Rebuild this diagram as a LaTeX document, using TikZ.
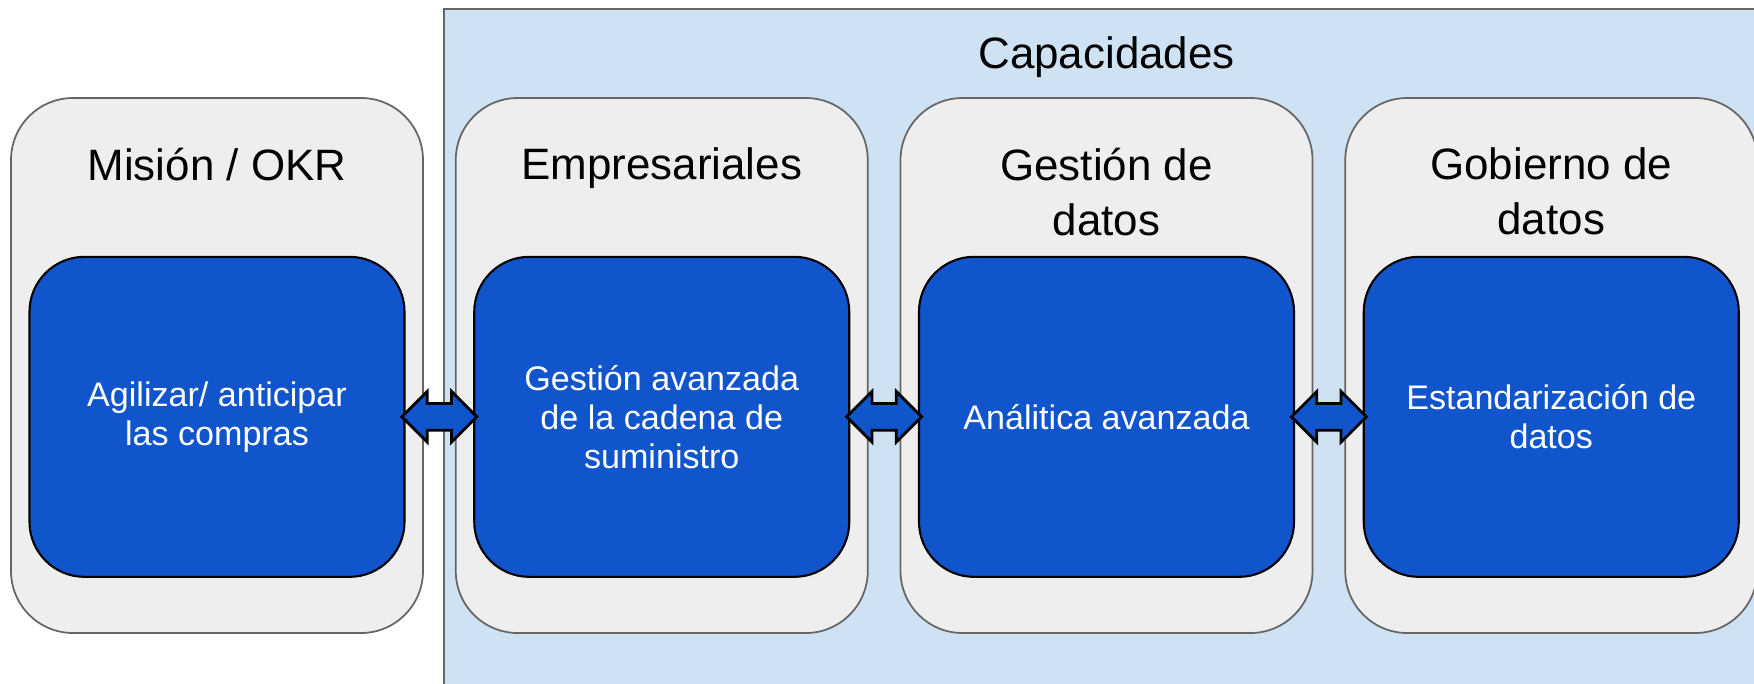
\documentclass[tikz,border=0pt]{standalone}
\usepackage{fontspec}
\setmainfont{Liberation Sans}
\usetikzlibrary{positioning, calc, shapes.arrows}
\definecolor{panelgray}{HTML}{EEEEEE}
\definecolor{edgegray}{HTML}{666666}
\definecolor{capblue}{HTML}{CFE2F3}
\definecolor{goalblue}{HTML}{1155CC}
\tikzset{
capzone/.style={draw=edgegray, fill=capblue, line width=0.5pt}, % the Capacidades area
lane/.style={draw=edgegray, fill=panelgray, line width=0.5pt, rounded corners=6.2mm, minimum width=41.2mm, minimum height=53.5mm}, % grey columns
lanetitle/.style={inner sep=0pt, align=center, font=\fontsize{12.5}{15.6}\selectfont},
goalbox/.style={draw=black, fill=goalblue, text=white, line width=0.6pt, rounded corners=5.5mm, minimum width=37.5mm, minimum height=32mm, align=center, font=\fontsize{9.7}{11.1}\selectfont}, % blue boxes
twoway/.style={double arrow, draw=black, fill=goalblue, line width=0.8pt, minimum height=7.5mm, inner xsep=0pt, inner ysep=1.2mm, double arrow head extend=1.2mm}, % block arrows
}
\begin{document}
\begin{tikzpicture}[x=0.1mm, y=-0.1mm]
\useasboundingbox (0,0) rectangle (1754,683);
\clip (0,0) rectangle (1754,683);
\draw[capzone] (444,9) rectangle (1780,710);

\node[lane] (mision) at (217,365.5) {};
\node[lane, right=3.1mm of mision] (empresa) {};
\node[lane, right=3.1mm of empresa] (gestion) {};
\node[lane, right=3.1mm of gestion] (gobierno) {};

\node[lanetitle, above=1.9mm of gestion.north] {Capacidades};
\node[lanetitle, below=5mm of mision.north] {Misión / OKR};
\node[lanetitle, below=5mm of empresa.north] {Empresariales};
\node[lanetitle, below=5mm of gestion.north] {Gestión de\\datos};
\node[lanetitle, below=5mm of gobierno.north] {Gobierno de\\datos};

\node[goalbox, above=5.6mm of mision.south] (okr) {Agilizar/ anticipar\\las compras};
\node[goalbox, above=5.6mm of empresa.south] (cadena) {Gestión avanzada\\de la cadena de\\suministro};
\node[goalbox, above=5.6mm of gestion.south] (analitica) {Análitica avanzada};
\node[goalbox, above=5.6mm of gobierno.south] (estandar) {Estandarización de\\datos};

\node[twoway] (a1) at ($(okr.east)!.5!(cadena.west)$) {};
\node[twoway] (a2) at ($(cadena.east)!.5!(analitica.west)$) {};
\node[twoway] (a3) at ($(analitica.east)!.5!(estandar.west)$) {};
\end{tikzpicture}
\end{document}
